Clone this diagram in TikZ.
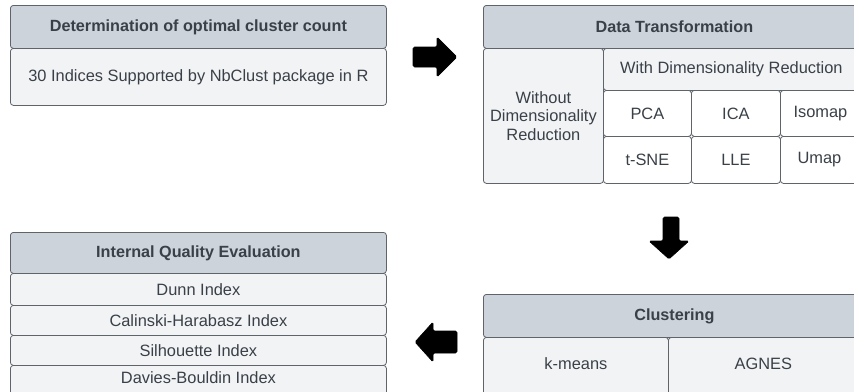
\documentclass[tikz,border=0pt]{standalone}
\usepackage{fontspec}
\setmainfont{Liberation Sans}
\definecolor{hdrfill}{HTML}{CDD3DB}
\definecolor{bodyfill}{HTML}{F2F3F5}
\definecolor{edge}{HTML}{5F646B}
\definecolor{ink}{HTML}{3A4048}
\tikzset{
  cell/.style={draw=edge, line width=0.8pt, rounded corners=3pt, anchor=north west,
    inner sep=0pt, text=ink, align=center, font=\fontsize{16.4}{18.5}\selectfont},
  hdr/.style={cell, fill=hdrfill, font=\fontsize{16.2}{18}\selectfont\bfseries},
  light/.style={cell, fill=bodyfill},
  plain/.style={cell, fill=white},
  blockarrow/.style={fill=black, draw=black, line width=0.6pt, rounded corners=1.5pt},
}
\newcommand{\cellbox}[6]{% style, name, x, y, width, height
  \node[#1, minimum width=#5pt, minimum height=#6pt] (#2) at (#3,#4)}
\begin{document}
\begin{tikzpicture}[x=1pt,y=-1pt]
\useasboundingbox (0,0) rectangle (854,391);
\clip (0,0) rectangle (854,391);

% Determination of optimal cluster count
\cellbox{hdr}{detH}{10}{5}{376}{43} {Determination of optimal cluster count};
\cellbox{light}{detB}{10}{48}{376}{57} {30 Indices Supported by NbClust package in R};

% Data Transformation
\cellbox{hdr}{dtH}{483}{5}{382}{43} {Data Transformation};
\cellbox{light}{dtNo}{483}{48}{120}{135} {Without\\Dimensionality\\Reduction};
\cellbox{light}{dtWith}{603}{48}{256}{42} {With Dimensionality Reduction};
\cellbox{plain}{pca}{603}{90}{88}{46} {PCA};
\cellbox{plain}{ica}{691}{90}{89}{46} {ICA};
\cellbox{plain}{iso}{780}{90}{80}{46} {Isomap};
\cellbox{plain}{tsne}{603}{136}{88}{47} {t-SNE};
\cellbox{plain}{lle}{691}{136}{89}{47} {LLE};
\cellbox{plain}{umap}{780}{136}{78}{47} {Umap};

% Clustering
\cellbox{hdr}{clH}{483}{294}{382}{43} {Clustering};
\cellbox{light}{km}{483}{337}{185}{70} {\raisebox{18pt}{k-means}};
\cellbox{light}{ag}{668}{337}{190}{70} {\raisebox{18pt}{AGNES}};

% Internal Quality Evaluation
\cellbox{hdr}{iqH}{10}{232}{376}{41} {Internal Quality Evaluation};
\cellbox{light}{dunn}{10}{273}{376}{32} {Dunn Index};
\cellbox{light}{ch}{10}{305}{376}{30} {Calinski-Harabasz Index};
\cellbox{light}{sil}{10}{335}{376}{30} {Silhouette Index};
\cellbox{light}{db}{10}{365}{376}{40} {\raisebox{16pt}{Davies-Bouldin Index}};

% Block arrows between the stages
\fill[blockarrow] (413,47) -- (437,47) -- (437,37) -- (457,57) -- (437,77) -- (437,67) -- (413,67) -- cycle;
\fill[blockarrow] (663,217) -- (679,217) -- (679,241) -- (689,241) -- (669,259) -- (649,241) -- (663,241) -- cycle;
\fill[blockarrow] (457,331) -- (433,331) -- (433,322) -- (415,342) -- (433,362) -- (433,353) -- (457,353) -- cycle;
\end{tikzpicture}
\end{document}
